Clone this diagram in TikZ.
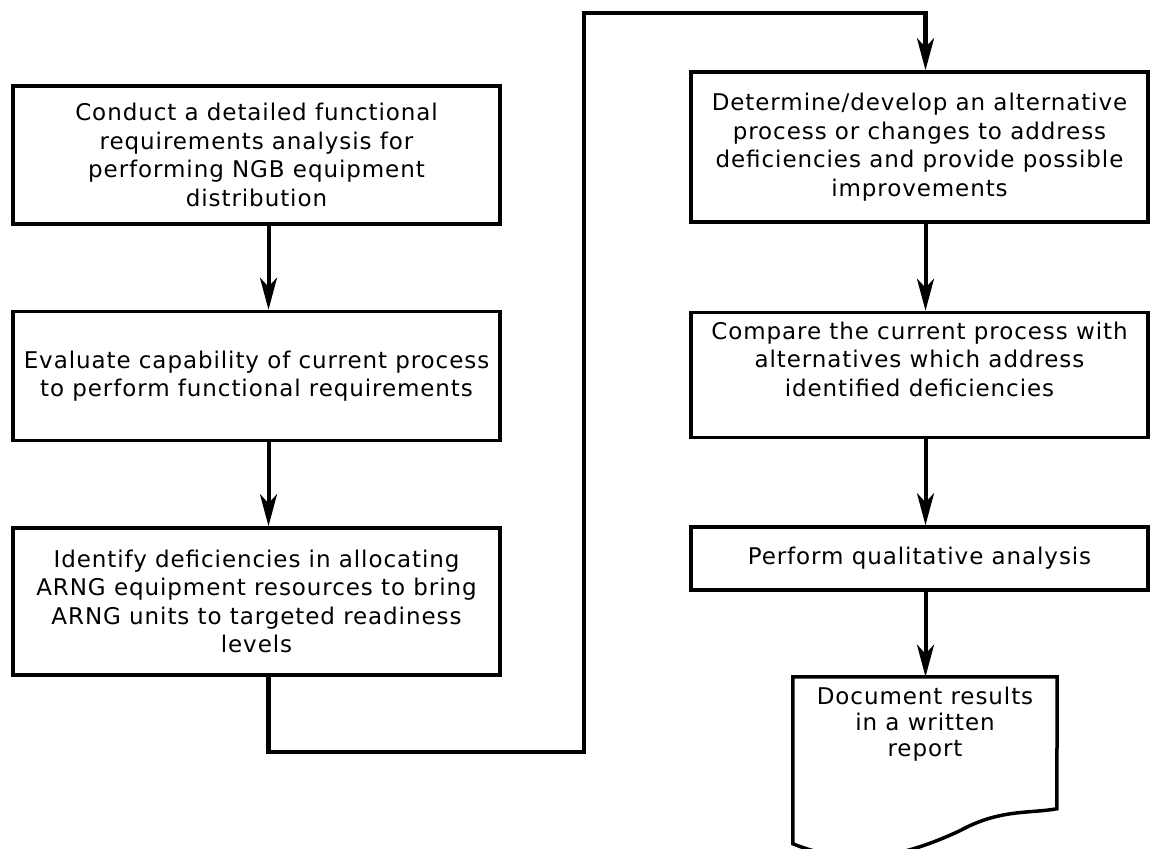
\documentclass[tikz,border=0pt]{standalone}
\usepackage{fontspec}
\setmainfont{DejaVu Sans}[LetterSpace=4]
\usetikzlibrary{positioning, arrows.meta}

\begin{document}
\begin{tikzpicture}[x=1pt,y=1pt,node distance=84pt,line join=miter]

	\tikzstyle{every node}=[font=\fontsize{23}{28.5}\selectfont]
	
	\tikzstyle{task}=[rectangle,draw,line width=3.5pt,align=center,inner sep=4pt]
	\tikzstyle{left task}=[task,minimum width=487pt]
	\tikzstyle{right task}=[task,minimum width=457pt]
	\tikzstyle{report}=[rectangle,align=center,minimum width=264pt,inner ysep=10pt,font=\fontsize{23}{26}\selectfont]
	\tikzstyle{flow}=[-{Stealth[length=32pt,width=17pt,inset=9pt]},line width=4pt]
	
	\useasboundingbox (0,0) rectangle (1150,-848);
	
	% left column
	\node[left task,minimum height=138pt] (B1) at (256.5,-155) {Conduct a detailed functional\\ requirements analysis for\\ performing NGB equipment\\ distribution};
	\node[left task,minimum height=129pt] (B2) [below=84pt of B1] {Evaluate capability of current process\\ to perform functional requirements};
	\node[left task,minimum height=147pt] (B3) [below=84pt of B2] {Identify deficiencies in allocating\\ ARNG equipment resources to bring\\ ARNG units to targeted readiness\\ levels};
	
	% right column
	\node[right task,minimum height=150pt] (B4) at (919.5,-147) {Determine/develop an alternative\\ process or changes to address\\ deficiencies and provide possible\\ improvements};
	\node[right task,minimum height=125pt,text depth=32pt] (B5) [below=87pt of B4] {Compare the current process with\\ alternatives which address\\ identified deficiencies};
	\node[right task,minimum height=63pt] (B6) [below=86pt of B5] {Perform qualitative analysis};
	\node[report] (D) [below=85pt of B6,xshift=5.5pt] {Document results\\ in a written\\ report};
	
	\draw[line width=3.5pt] (D.north east) -- (D.north west) -- ++(0,-167)
		.. controls +(57,-23) and +(-60,-28) .. ++(167,13)
		.. controls +(40,22) and +(-27,-5) .. ++(97,22) -- cycle;
	
	\coordinate (low) at (584,-752);
	\coordinate (high) at (584,-13);
	
	\path ([xshift=12pt]B1.south) edge[flow] ([xshift=12pt]B2.north)
	([xshift=12pt]B2.south) edge[flow] ([xshift=12pt]B3.north)
	([xshift=6pt]B4.south) edge[flow] ([xshift=6pt]B5.north)
	([xshift=6pt]B5.south) edge[flow] ([xshift=6pt]B6.north)
	([xshift=6pt]B6.south) edge[flow] ([xshift=0.5pt]D.north);
	
	\draw[flow,line width=4.5pt] ([xshift=12pt]B3.south) |- (low) -- (high) -| ([xshift=6pt]B4.north);
	
\end{tikzpicture}
\end{document}
